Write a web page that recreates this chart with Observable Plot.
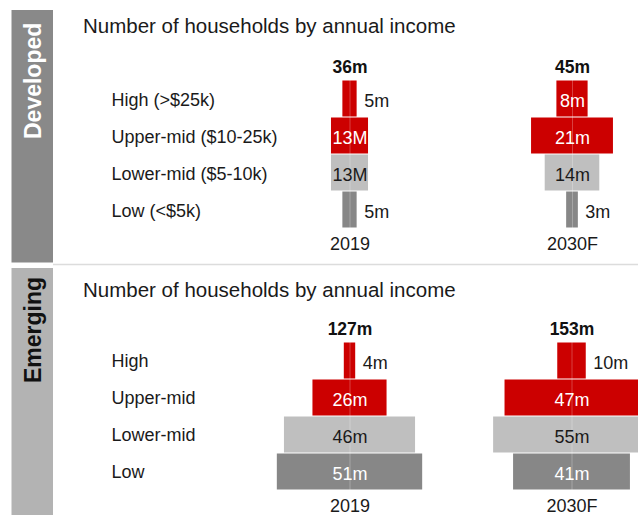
<!DOCTYPE html>
<html><head><meta charset="utf-8">
<script src="https://cdn.jsdelivr.net/npm/d3@7"></script>
<script src="https://cdn.jsdelivr.net/npm/@observablehq/plot@0.6"></script>
<style>
body{margin:0;background:#fff;width:638px;height:515px;overflow:hidden;position:relative;font-family:"Liberation Sans",Arial,sans-serif;}
.abs{position:absolute;}
.title{position:absolute;left:83px;font-size:20.5px;color:#1a1a1a;line-height:20px;white-space:nowrap;}
</style></head><body>
<svg class="abs" style="left:0;top:0" width="638" height="515">
  <rect x="11.5" y="10" width="41.5" height="252.5" fill="#898989"/>
  <rect x="11.5" y="268" width="41.5" height="247" fill="#b3b3b3"/>
  <line x1="53" x2="638" y1="264.5" y2="264.5" stroke="#dcdcdc" stroke-width="1.5"/>
  <text transform="translate(40.5,139) rotate(-90)" font-family="Liberation Sans, Arial, sans-serif" font-size="23" font-weight="bold" fill="#ffffff">Developed</text>
  <text transform="translate(40.5,383) rotate(-90)" font-family="Liberation Sans, Arial, sans-serif" font-size="23" font-weight="bold" fill="#111111">Emerging</text>
</svg>
<div class="title" style="top:16px">Number of households by annual income</div>
<div class="title" style="top:280px">Number of households by annual income</div>
<div id="devA" class="abs" style="left:100px;top:50px"></div>
<div id="devB" class="abs" style="left:462px;top:50px"></div>
<div id="emA" class="abs" style="left:100px;top:312px"></div>
<div id="emB" class="abs" style="left:462px;top:312px"></div>
<script>
// ---- data ----
const years = ["2019", "2030F"];
const categoriesDeveloped = ["High (>$25k)", "Upper-mid ($10-25k)", "Lower-mid ($5-10k)", "Low (<$5k)"];
const categoriesEmerging = ["High", "Upper-mid", "Lower-mid", "Low"];
const developed2019 = [5, 13, 13, 5];
const developed2030F = [8, 21, 14, 3];
const emerging2019 = [4, 26, 46, 51];
const emerging2030F = [10, 47, 55, 41];
const labelsDeveloped2019 = ["5m", "13M", "13M", "5m"];
const labelsDeveloped2030F = ["8m", "21m", "14m", "3m"];
const labelsEmerging2019 = ["4m", "26m", "46m", "51m"];
const labelsEmerging2030F = ["10m", "47m", "55m", "41m"];
const totalsDeveloped = ["36m", "45m"];
const totalsEmerging = ["127m", "153m"];

// ---- styles ----
const barColors = ["#cc0000", "#cc0000", "#bfbfbf", "#878787"];
const insideText = ["#ffffff", "#ffffff", "#1a1a1a", "#ffffff"];
const FONT = "Liberation Sans, Arial, sans-serif";

function column({cats, values, labels, total, year, k, width, cx, showCats, catDy}) {
  const rows = cats.map((c, i) => ({cat: c, value: values[i], label: labels[i], i}));
  const inside = rows.filter(d => d.value * k >= 30);
  const outside = rows.filter(d => d.value * k < 30);
  const marks = [
    Plot.barX(rows, {x1: d => -d.value / 2, x2: d => d.value / 2, y: "cat",
      fill: d => barColors[d.i], insetTop: 0.5, insetBottom: 0.5}),
    Plot.ruleX([0], {stroke: "#ffffff", strokeOpacity: 0.25, strokeWidth: 1}),
    Plot.text(inside, {x: () => 0, y: "cat", text: "label", fill: d => insideText[d.i],
      fontSize: 18, dy: 2}),
    Plot.text(outside, {x: d => d.value / 2, y: "cat", text: "label", fill: "#1a1a1a",
      fontSize: 18, dx: 7, dy: 2, textAnchor: "start"}),
    Plot.text([total], {x: () => 0, text: d => d, frameAnchor: "top", lineAnchor: "middle", dy: -12,
      fontSize: 17.5, fontWeight: "bold", fill: "#111"}),
    Plot.text([year], {x: () => 0, text: d => d, frameAnchor: "bottom", lineAnchor: "middle", dy: 15.5,
      fontSize: 18, fill: "#1a1a1a"})
  ];
  if (showCats) {
    marks.push(Plot.text(cats, {y: d => d, text: d => d, frameAnchor: "left", dx: 11, dy: catDy,
      textAnchor: "start", fontSize: 18, fill: "#1a1a1a"}));
  }
  return Plot.plot({
    width, height: 205,
    marginTop: 29, marginBottom: 27, marginLeft: 0, marginRight: 0,
    x: {domain: [-cx / k, (width - cx) / k], axis: null},
    y: {domain: cats, padding: 0, axis: null},
    color: {type: "identity"},
    style: {fontFamily: FONT, background: "transparent", overflow: "visible"},
    marks
  });
}

document.getElementById("devA").append(column({cats: categoriesDeveloped, values: developed2019,
  labels: labelsDeveloped2019, total: totalsDeveloped[0], year: years[0], k: 2.85, width: 360, cx: 249.5, showCats: true, catDy: 1}));
document.getElementById("devB").append(column({cats: categoriesDeveloped, values: developed2030F,
  labels: labelsDeveloped2030F, total: totalsDeveloped[1], year: years[1], k: 3.9, width: 176, cx: 110, showCats: false}));
document.getElementById("emA").append(column({cats: categoriesEmerging, values: emerging2019,
  labels: labelsEmerging2019, total: totalsEmerging[0], year: years[0], k: 2.85, width: 360, cx: 249.5, showCats: true, catDy: 0}));
document.getElementById("emB").append(column({cats: categoriesEmerging, values: emerging2030F,
  labels: labelsEmerging2030F, total: totalsEmerging[1], year: years[1], k: 2.85, width: 176, cx: 109.5, showCats: false}));
</script>
</body></html>
